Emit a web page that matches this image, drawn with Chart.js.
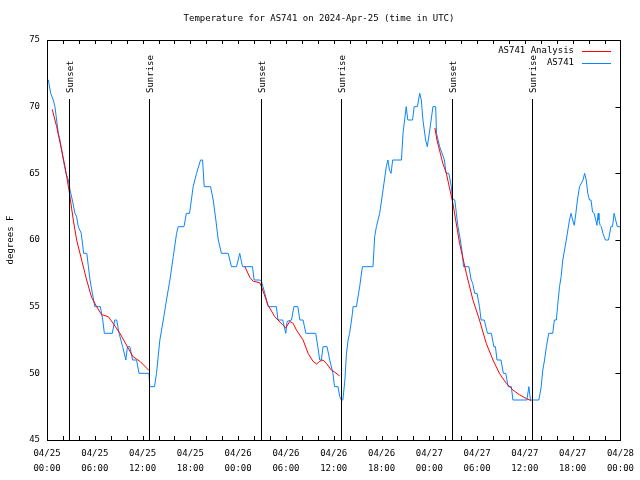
<!DOCTYPE html>
<html>
<head>
<meta charset="utf-8">
<script src="https://cdn.jsdelivr.net/npm/chart.js@4.4.1/dist/chart.umd.min.js"></script>
<style>
  html, body { margin: 0; padding: 0; background: #fff; }
</style>
</head>
<body>
<canvas id="tempChart" width="640" height="480"></canvas>
<script>
// hours since 04/25 00:00 UTC, and temperature (F)
var blueHours = [
  0, 0.17, 0.46, 0.79, 1.0, 1.21, 1.42, 1.63, 1.84, 2.05,
  2.38, 2.68, 2.89, 3.18, 3.51, 3.72, 3.93, 4.3, 4.6, 5.0,
  5.2, 5.4, 5.7, 6.0, 6.7, 7.0, 7.2, 8.2, 8.5, 8.75,
  9.05, 9.5, 9.9, 10.1, 10.4, 10.75, 11.25, 11.55, 12.8, 12.9,
  13.5, 13.75, 14.17, 14.6, 15.0, 15.43, 15.85, 16.27, 16.47, 17.2,
  17.5, 17.9, 18.35, 18.78, 19.28, 19.53, 19.74, 20.53, 20.87, 21.2,
  21.5, 21.9, 22.75, 23.16, 23.8, 24.2, 24.55, 25.8, 26.0, 26.7,
  26.93, 27.35, 27.76, 28.8, 29.0, 29.6, 29.98, 30.15, 30.7, 31.0,
  31.5, 31.74, 32.15, 32.5, 33.74, 34.0, 34.24, 34.45, 34.66, 35.16,
  35.5, 35.9, 36.1, 36.54, 36.75, 36.96, 37.15, 37.4, 37.6, 37.8,
  38.0, 38.35, 38.42, 38.85, 39.26, 39.6, 40.93, 41.14, 41.36, 41.77,
  42.19, 42.6, 42.8, 43.0, 43.2, 43.4, 44.5, 44.7, 44.9, 45.1,
  45.3, 45.9, 46.1, 46.5, 46.8, 47.0, 47.2, 47.54, 47.75, 48.0,
  48.46, 48.8, 48.9, 49.1, 49.3, 49.9, 50.1, 50.45, 50.77, 50.9,
  51.2, 51.4, 51.6, 51.9, 52.14, 52.3, 52.97, 53.26, 53.45, 53.7,
  54.0, 54.3, 54.5, 54.9, 55.3, 55.8, 56.1, 56.3, 56.5, 57.0,
  57.3, 57.6, 57.9, 58.3, 58.5, 60.25, 60.5, 60.7, 61.75, 62.05,
  62.25, 62.47, 62.7, 63.0, 63.5, 63.7, 63.95, 64.1, 64.35, 64.55,
  64.76, 64.98, 65.2, 65.4, 65.6, 65.8, 66.0, 66.2, 66.4, 66.6,
  66.86, 67.3, 67.5, 67.7, 67.9, 68.1, 68.3, 68.5, 68.7, 68.9,
  69.05, 69.2, 69.3, 69.45, 69.6, 69.8, 70.1, 70.5, 70.8, 71.0,
  71.2, 71.4, 71.6, 72.0
];
var blueTemps = [
  72, 72, 71, 70.5, 70, 69, 68, 67.5, 66.75, 66,
  65, 64.5, 63.75, 63, 62, 61.75, 61, 60.5, 59, 59,
  58, 57, 56, 55, 55, 54, 53, 53, 54, 54,
  53, 52, 51, 52, 52, 51, 51, 50, 50, 49,
  49, 50, 52.5, 54, 55.5, 57, 58.75, 60.5, 61, 61,
  62, 62, 64, 65, 66, 66, 64, 64, 63, 61.5,
  60, 59, 59, 58, 58, 59, 58, 58, 57, 57,
  56.9, 56, 55, 55, 54, 54, 53, 53.9, 54, 55,
  55, 54, 54, 53, 53, 52, 51, 51, 52, 52,
  51, 50, 49, 49, 48.25, 48, 48, 49.5, 51.5, 52.5,
  53, 54.5, 55, 55, 56.5, 58, 58, 60.25, 61, 62,
  63.75, 65.5, 66, 65.25, 65, 66, 66, 68, 69, 70,
  69, 69, 70, 70, 71, 70.5, 69, 67.5, 67, 68,
  70, 70, 68, 67.5, 67, 66, 65, 65, 64, 63.1,
  63, 62, 61, 60, 59, 58, 58, 57, 56.75, 56,
  56, 55, 54, 54, 53, 53, 52, 52, 51, 51,
  50, 50, 49, 49, 48, 48, 49, 48, 48, 49,
  50.25, 51, 52, 53, 53, 54, 54, 55, 56.5, 57.25,
  58.5, 59.25, 60, 60.75, 61.5, 62, 61.5, 61.1, 62, 63,
  64, 64.5, 65, 64.5, 63.5, 63, 63, 62.1, 62, 61.5,
  61.1, 62, 61.5, 61.1, 61, 60.5, 60, 60, 61, 61,
  62, 61.5, 61, 61
];

// analysis curves, one per night
var night1Hours = [0.66, 1.21, 1.84, 2.26, 2.8, 3.3, 3.72, 4.35, 4.98, 5.6, 6.23, 6.86, 7.7, 8.3, 9.16, 10.08, 10.8, 11.67, 12.83];
var night1Temps = [69.8, 68.5, 66.75, 65.5, 63.6, 61.5, 60, 58.5, 57, 55.7, 55, 54.4, 54.25, 53.75, 53, 52, 51.25, 50.9, 50.2];
var night2Hours = [24.84, 25.47, 25.9, 26.7, 26.93, 27.76, 28.6, 29.64, 29.98, 30.48, 30.9, 31.32, 32.15, 32.78, 33.4, 33.83, 34.24, 34.66, 35.08, 35.7, 36.1, 36.75];
var night2Temps = [58, 57.2, 56.9, 56.8, 56.5, 55.1, 54.25, 53.6, 53.4, 53.9, 53.75, 53.25, 52.5, 51.5, 50.9, 50.7, 50.9, 51, 50.75, 50.25, 50.1, 49.8];
var night3Hours = [48.7, 48.96, 49.7, 50.14, 50.96, 51.8, 52.65, 53.48, 54.3, 55.15, 56.0, 56.8, 57.66, 58.5, 59.3, 60.2, 60.8];
var night3Temps = [68.4, 67.5, 65.75, 65, 62.75, 59.75, 57.5, 55.5, 54, 52.25, 51, 50, 49.25, 48.75, 48.4, 48.1, 47.95];

var sunHours = [2.8, 12.83, 26.88, 36.88, 50.85, 60.88];
var sunLabels = ['Sunset', 'Sunrise', 'Sunset', 'Sunrise', 'Sunset', 'Sunrise'];

var dayLabels = ['04/25', '04/26', '04/27', '04/28'];

var titleText = 'Temperature for AS741 on 2024-Apr-25 (time in UTC)';
var yTitle = 'degrees F';
var legendNames = ['AS741 Analysis', 'AS741'];

var RED = '#ff0000';
var BLUE = '#0a84ff';
var FONT = '9px "DejaVu Sans Mono"';

function pairs(xs, ys) {
  var out = [];
  for (var i = 0; i < xs.length; i++) {
    out.push({x: xs[i], y: ys[i]});
  }
  return out;
}

function pad2(n) { return (n < 10 ? '0' : '') + n; }

var decor = {
  id: 'decor',
  afterDraw: function(chart) {
    var ctx = chart.ctx;
    var a = chart.chartArea;
    var xs = chart.scales.x, ys = chart.scales.y;
    ctx.save();
    ctx.strokeStyle = '#000';
    ctx.lineWidth = 1;

    // border
    ctx.strokeRect(Math.round(a.left) + 0.5, Math.round(a.top) + 0.5,
                   Math.round(a.right - a.left), Math.round(a.bottom - a.top));

    // x ticks, bottom and top, inside
    ctx.beginPath();
    for (var h = 2; h < 72; h += 2) {
      var px = Math.round(xs.getPixelForValue(h)) + 0.5;
      ctx.moveTo(px, a.bottom); ctx.lineTo(px, a.bottom - 4);
      ctx.moveTo(px, a.top); ctx.lineTo(px, a.top + 4);
    }
    // y ticks, right side
    for (var t = 50; t < 75; t += 5) {
      var py = Math.round(ys.getPixelForValue(t)) + 0.5;
      ctx.moveTo(a.right, py); ctx.lineTo(a.right - 5, py);
    }
    ctx.stroke();

    // sunrise / sunset markers
    ctx.font = FONT;
    ctx.fillStyle = '#000';
    for (var i = 0; i < sunHours.length; i++) {
      var sx = Math.round(xs.getPixelForValue(sunHours[i])) + 0.5;
      ctx.beginPath();
      ctx.moveTo(sx, 99);
      ctx.lineTo(sx, a.bottom);
      ctx.stroke();
      ctx.save();
      ctx.translate(sx + 1, 93);
      ctx.rotate(-Math.PI / 2);
      ctx.textAlign = 'left';
      ctx.textBaseline = 'middle';
      ctx.fillText(sunLabels[i], 0, 0);
      ctx.restore();
    }

    // title
    ctx.textAlign = 'center';
    ctx.textBaseline = 'middle';
    ctx.fillText(titleText, 319, 19);

    // y axis title
    ctx.save();
    ctx.translate(11, 240);
    ctx.rotate(-Math.PI / 2);
    ctx.fillText(yTitle, 0, 0);
    ctx.restore();

    // legend
    var colors = [RED, BLUE];
    ctx.textAlign = 'right';
    for (var k = 0; k < legendNames.length; k++) {
      var ly = 51 + k * 12;
      ctx.fillStyle = '#000';
      ctx.fillText(legendNames[k], 574, ly);
      ctx.strokeStyle = colors[k];
      ctx.beginPath();
      ctx.moveTo(582, ly + 0.5);
      ctx.lineTo(611, ly + 0.5);
      ctx.stroke();
    }
    ctx.restore();
  }
};

var lineOpts = {borderWidth: 1, pointRadius: 0, tension: 0, fill: false};

var datasets = [
  Object.assign({label: 'AS741 Analysis', data: pairs(night1Hours, night1Temps), borderColor: RED}, lineOpts),
  Object.assign({label: 'AS741 Analysis 2', data: pairs(night2Hours, night2Temps), borderColor: RED}, lineOpts),
  Object.assign({label: 'AS741 Analysis 3', data: pairs(night3Hours, night3Temps), borderColor: RED}, lineOpts),
  Object.assign({label: 'AS741', data: pairs(blueHours, blueTemps), borderColor: BLUE}, lineOpts)
];

var tickFont = {family: 'DejaVu Sans Mono', size: 9, lineHeight: '15px'};

new Chart(document.getElementById('tempChart'), {
  type: 'line',
  data: {datasets: datasets},
  options: {
    responsive: false,
    animation: false,
    layout: {padding: {left: 0, right: 19, top: 40, bottom: 0}},
    plugins: {legend: {display: false}, tooltip: {enabled: false}, title: {display: false}},
    scales: {
      x: {
        type: 'linear', min: 0, max: 72,
        grid: {display: false, drawTicks: false},
        border: {display: false},
        ticks: {
          stepSize: 2, autoSkip: false, maxRotation: 0, minRotation: 0,
          padding: 6, color: '#000', font: tickFont,
          callback: function(v) {
            if (v % 6 !== 0) return '';
            return [dayLabels[Math.floor(v / 24)], pad2(v % 24) + ':00'];
          }
        },
        afterFit: function(s) { s.height = 40; }
      },
      y: {
        min: 45, max: 75,
        grid: {display: false, drawTicks: false},
        border: {display: false},
        ticks: {stepSize: 5, padding: 7, color: '#000', font: {family: 'DejaVu Sans Mono', size: 9}},
        afterFit: function(s) { s.width = 47; }
      }
    }
  },
  plugins: [decor]
});
</script>
</body>
</html>
